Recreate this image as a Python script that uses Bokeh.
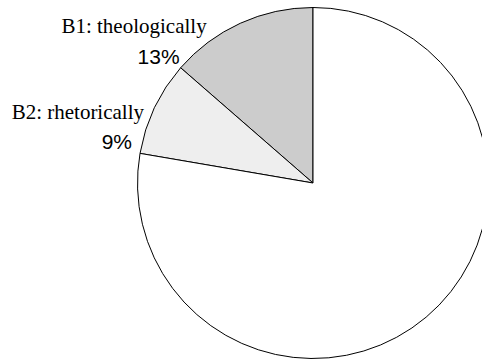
import numpy as np
from bokeh.plotting import figure
from bokeh.models import ColumnDataSource, Range1d
from bokeh.core.properties import value
from bokeh.embed import file_html
from bokeh.resources import INLINE

# ---- data ----
categories = ["B1: theologically", "B2: rhetorically", "Other"]
shares = [13.6, 8.7, 77.7]
pct_labels = ["13%", "9%", "78%"]
fill_colors = ["#cccccc", "#eeeeee", "#ffffff"]
show_label = [True, True, False]

# ---- layout / style ----
W, H = 482, 360
cx, cy, r = 312.5, 177.5, 175.5
pct_dx = [-1, -8, 0]
name_dx = [26, 4, 0]
pct_dy = 11.5
name_dy = 41.5

p = figure(width=W, height=H, x_range=Range1d(0, W), y_range=Range1d(0, H),
           output_backend="svg", toolbar_location=None, min_border=0)
p.axis.visible = False
p.grid.visible = False
p.outline_line_color = None
p.background_fill_color = "white"
p.border_fill_color = "white"

vals = np.array(shares, dtype=float)
frac = vals / vals.sum()
ends_cum = np.cumsum(frac) * 2 * np.pi
starts = np.pi / 2 + np.concatenate([[0], ends_cum[:-1]])
ends = np.pi / 2 + ends_cum

src = ColumnDataSource(dict(x=[cx] * len(vals), y=[cy] * len(vals),
                            start=starts, end=ends, color=fill_colors))
p.wedge(x="x", y="y", radius=r, start_angle="start", end_angle="end",
        fill_color="color", line_color="black", line_width=1, source=src)

lx, ly, lt, nx, ny, nt = [], [], [], [], [], []
for i, c in enumerate(categories):
    if not show_label[i]:
        continue
    ex = cx + r * np.cos(ends[i])
    ey = cy + r * np.sin(ends[i])
    lx.append(ex + pct_dx[i]); ly.append(ey + pct_dy); lt.append(pct_labels[i])
    nx.append(ex + name_dx[i]); ny.append(ey + name_dy); nt.append(c)

p.text(x=lx, y=ly, text=lt, text_align="right", text_baseline="alphabetic",
       text_font=value("Liberation Sans"), text_font_size="21px", text_color="black")
p.text(x=nx, y=ny, text=nt, text_align="right", text_baseline="alphabetic",
       text_font=value("Liberation Serif"), text_font_size="21px", text_color="black")

open("out.html", "w").write(file_html(p, INLINE))
